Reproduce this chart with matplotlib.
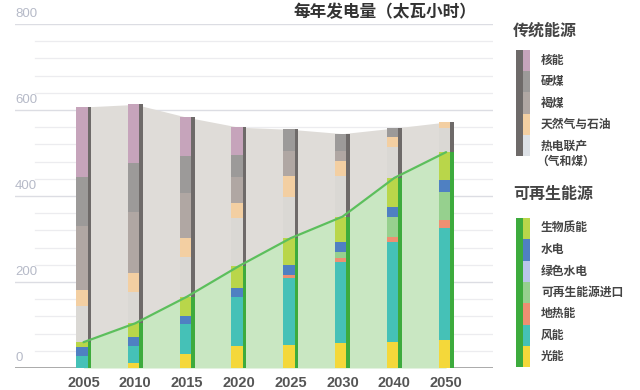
import matplotlib
matplotlib.use("Agg")
import matplotlib.pyplot as plt
from matplotlib.patches import Rectangle
import numpy as np

# ---------------- data (TWh) ----------------
years = ['2005', '2010', '2015', '2020', '2025', '2030', '2040', '2050']

# renewables (bottom -> top)
solar       = [1, 12, 33, 51, 53, 58, 60, 65]
wind        = [28, 40, 70, 114, 156, 188, 233, 260]
geothermal  = [0, 0, 0, 0, 7, 9, 12, 19]
imports     = [0, 0, 0, 0, 0, 14, 47, 65]
green_hydro = [0, 0, 0, 0, 0, 0, 0, 0]
hydro       = [19, 19, 19, 21, 23, 23, 23, 28]
biomass     = [12, 33, 44, 51, 63, 60, 67, 65]

# conventional (bottom -> top)
chp       = [84, 72, 93, 112, 95, 95, 72, 56]
gas_oil   = [37, 44, 44, 35, 49, 35, 23, 14]
lignite   = [149, 142, 105, 60, 58, 23, 0, 0]
hard_coal = [114, 114, 84, 51, 51, 40, 21, 0]
nuclear   = [163, 137, 91, 65, 0, 0, 0, 0]

yticks = [0, 200, 400, 600, 800]
title = '每年发电量（太瓦小时）'
conv_title = '传统能源'
ren_title = '可再生能源'
conv_labels = ['核能', '硬煤', '褐煤', '天然气与石油', '热电联产\n（气和煤）']
ren_labels = ['生物质能', '水电', '绿色水电', '可再生能源进口', '地热能', '风能', '光能']

# ---------------- styles ----------------
CJK = ['Noto Sans CJK SC', 'DejaVu Sans']
NUM = ['Liberation Sans Narrow', 'Liberation Sans', 'DejaVu Sans']

c_solar, c_wind, c_geo, c_imp = '#f4d83a', '#45c1b7', '#ee8f72', '#96d08e'
c_ghydro, c_hydro, c_bio = '#b9c5ea', '#4f80c2', '#b9d64a'
c_chp, c_gas, c_lig, c_hc, c_nuc = '#dad8d4', '#f3cfa2', '#b0a7a3', '#9c9a99', '#c6a4bb'
c_chp_leg = '#dde1e6'
c_dark, c_green = '#6e6a69', '#3dab3d'
c_area_gray, c_area_green, c_line = '#dfdcd8', '#c9e7c2', '#5cbf5c'

ren_series = [(solar, c_solar), (wind, c_wind), (geothermal, c_geo), (imports, c_imp),
              (green_hydro, c_ghydro), (hydro, c_hydro), (biomass, c_bio)]
conv_series = [(chp, c_chp), (gas_oil, c_gas), (lignite, c_lig),
               (hard_coal, c_hc), (nuclear, c_nuc)]

W, H = 640, 390
fig = plt.figure(figsize=(W / 100, H / 100), dpi=100)
fig.patch.set_facecolor('white')

# main axes placed in pixel terms
left_px, right_px, bottom_px, top_px = 15, 493, 368, 24
ax = fig.add_axes([left_px / W, 1 - bottom_px / H,
                   (right_px - left_px) / W, (bottom_px - top_px) / H])
x = np.arange(len(years))
spacing = 51.8
x0 = 83.5
ax.set_xlim((left_px - x0) / spacing, (right_px - x0) / spacing)
ax.set_ylim(0, 800)
for s in ax.spines.values():
    s.set_visible(False)
ax.set_yticks([])

# grid lines
for v in range(0, 801, 40):
    if v == 0:
        ax.axhline(v, color='#9c9c9c', lw=1.2, zorder=1)
    elif v % 200 == 0:
        ax.axhline(v, color='#dcdde3', lw=1.0, zorder=1)
    else:
        ax.axhline(v, xmin=20 / (right_px - left_px), color='#ececef', lw=0.9, zorder=1)

for v in yticks:
    ax.annotate(str(v), xy=(0, v), xycoords=('axes fraction', 'data'),
                xytext=(0, 3), textcoords='offset points', ha='left', va='bottom',
                fontsize=9.5, color='#b6bac8', family=NUM)

ren_total = np.sum([s for s, _ in ren_series], axis=0)
conv_total = np.sum([s for s, _ in conv_series], axis=0)
total = ren_total + conv_total

# areas between bars
ax.fill_between(x, ren_total, total, color=c_area_gray, lw=0, zorder=2)
ax.fill_between(x, 0, ren_total, color=c_area_green, lw=0, zorder=2)

# bars
w_tot = 15 / spacing
w_str = 3.5 / spacing
w_col = w_tot - w_str
bx = x - w_tot / 2
bottom = np.zeros(len(years))
for vals, col in ren_series + conv_series:
    v = np.array(vals, dtype=float)
    ax.bar(bx, v, width=w_col, bottom=bottom, align='edge', color=col, lw=0, zorder=3)
    bottom += v
ax.bar(bx + w_col, ren_total, width=w_str, bottom=0, align='edge', color=c_green, lw=0, zorder=3)
ax.bar(bx + w_col, conv_total, width=w_str, bottom=ren_total, align='edge', color=c_dark, lw=0, zorder=3)

ax.plot(x, ren_total, color=c_line, lw=1.6, zorder=4, solid_capstyle='round')

ax.set_xticks(x)
ax.set_xticklabels(years, fontsize=10.5, fontweight='bold', color='#555555', family=NUM)
ax.tick_params(axis='x', length=0, pad=6)

# overlay axes for title & legend (pixel coordinates)
ov = fig.add_axes([0, 0, 1, 1], facecolor='none')
ov.set_xlim(0, W)
ov.set_ylim(H, 0)
ov.axis('off')

ov.text(385, 12, title, ha='center', va='center', fontsize=12, fontweight='bold',
        color='#333333', family=CJK)

# conventional legend
ov.text(513, 31, conv_title, ha='left', va='center', fontsize=11.5, fontweight='bold',
        color='#444444', family=CJK)
seg_h = 21.2
ytop = 50
leg_conv_cols = [c_nuc, c_hc, c_lig, c_gas, c_chp_leg]
ov.add_patch(Rectangle((516, ytop), 6.5, seg_h * 5, color=c_dark, lw=0))
for i, (lab, col) in enumerate(zip(conv_labels, leg_conv_cols)):
    ov.add_patch(Rectangle((522.5, ytop + i * seg_h), 7, seg_h, color=col, lw=0))
    if '\n' in lab:
        l1, l2 = lab.split('\n')
        ov.text(541, ytop + i * seg_h + seg_h / 2 + 1, l1, ha='left', va='center', fontsize=8.5,
                fontweight='bold', color='#444444', family=CJK)
        ov.text(536, ytop + i * seg_h + seg_h / 2 + 16, l2, ha='left', va='center', fontsize=8.5,
                fontweight='bold', color='#444444', family=CJK)
    else:
        ov.text(541, ytop + i * seg_h + seg_h / 2, lab, ha='left', va='center', fontsize=8.5,
                fontweight='bold', color='#444444', family=CJK)

# renewable legend
ov.text(513, 194, ren_title, ha='left', va='center', fontsize=11.5, fontweight='bold',
        color='#444444', family=CJK)
ytop2 = 218
seg_h2 = 21.3
leg_ren_cols = [c_bio, c_hydro, c_ghydro, c_imp, c_geo, c_wind, c_solar]
ov.add_patch(Rectangle((516, ytop2), 6.5, seg_h2 * 7, color=c_green, lw=0))
for i, (lab, col) in enumerate(zip(ren_labels, leg_ren_cols)):
    ov.add_patch(Rectangle((522.5, ytop2 + i * seg_h2), 7, seg_h2, color=col, lw=0))
    ov.text(541, ytop2 + i * seg_h2 + seg_h2 / 2, lab, ha='left', va='center', fontsize=8.5,
            fontweight='bold', color='#444444', family=CJK)

fig.savefig('out.png', dpi=100, facecolor='white')
